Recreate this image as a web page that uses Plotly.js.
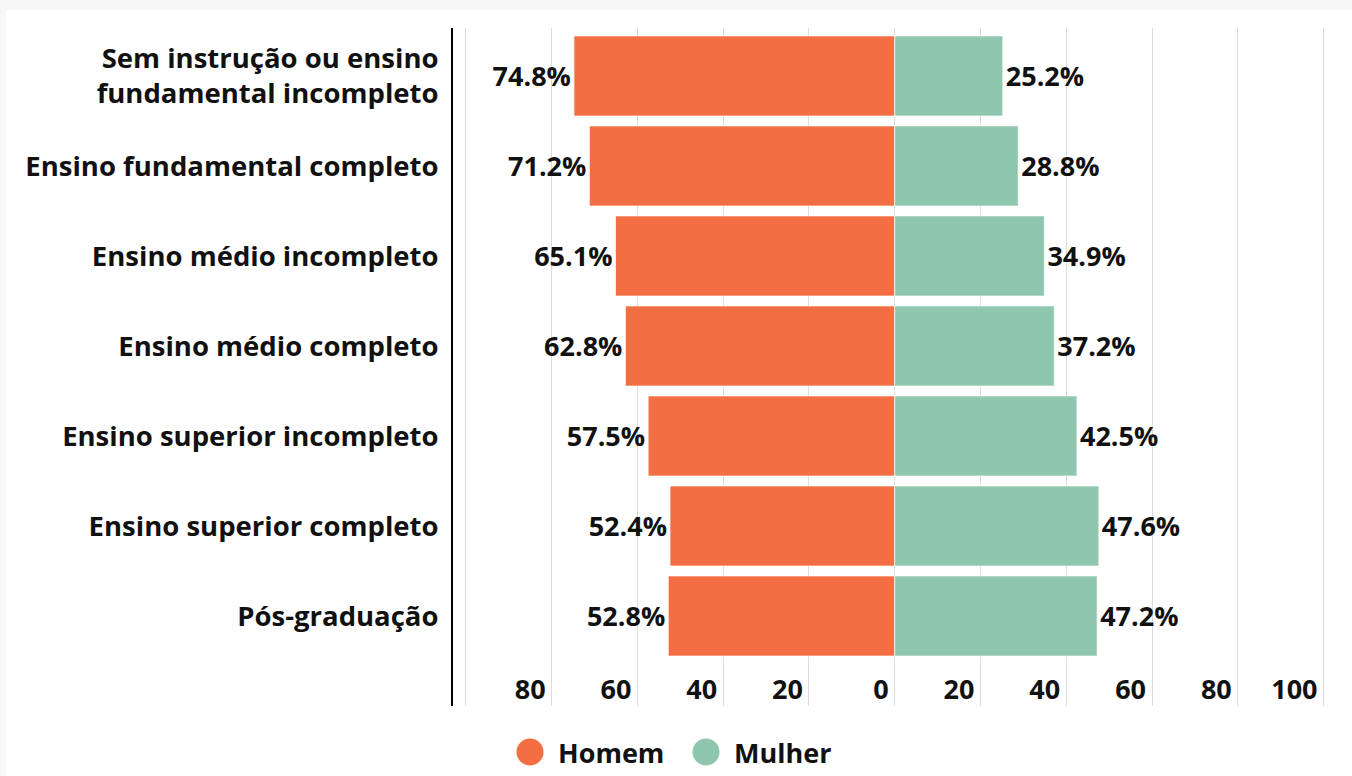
<!DOCTYPE html>
<html>
<head>
<meta charset="utf-8">
<script src="https://cdn.plot.ly/plotly-3.0.1.min.js"></script>
<style>
  html, body { margin: 0; padding: 0; background: #f7f7f7; width: 1352px; height: 776px; overflow: hidden; }
  #chart { position: absolute; left: 6px; top: 10px; width: 1346px; height: 766px; background: #ffffff; }
</style>
</head>
<body>
<div id="chart"></div>
<script>
// ---- data ----
const categories = [
  "Sem instrução ou ensino<br>fundamental incompleto",
  "Ensino fundamental completo",
  "Ensino médio incompleto",
  "Ensino médio completo",
  "Ensino superior incompleto",
  "Ensino superior completo",
  "Pós-graduação"
];
const homem  = [74.8, 71.2, 65.1, 62.8, 57.5, 52.4, 52.8];
const mulher = [25.2, 28.8, 34.9, 37.2, 42.5, 47.6, 47.2];
const tickValues = [-100, -80, -60, -40, -20, 0, 20, 40, 60, 80, 100];
const tickLabels = ["", "80", "60", "40", "20", "0", "20", "40", "60", "80", "100"];
const seriesNames = ["Homem", "Mulher"];

// ---- style ----
const ORANGE = "#f36e42";
const GREEN = "#8ec7ad";
const FONT = "Open Sans";
const FS = 27;

const W = 1346, H = 766;
const M = { l: 447, r: 22, t: 18, b: 70 };
const PW = W - M.l - M.r, PH = H - M.t - M.b;
const px = x => (x - M.l) / PW;          // div pixel -> paper x
const py = y => (H - M.b - y) / PH;      // div pixel -> paper y

const traces = [
  {
    type: "bar", orientation: "h", name: seriesNames[0],
    y: categories, x: homem.map(v => -v),
    text: homem.map(v => v.toFixed(1) + "%"),
    textposition: "outside", cliponaxis: false,
    textfont: { family: FONT, size: FS, weight: 700, color: "#111" },
    marker: { color: ORANGE, line: { color: "rgba(255,255,255,0.7)", width: 1 } },
    showlegend: false, hoverinfo: "none"
  },
  {
    type: "bar", orientation: "h", name: seriesNames[1],
    y: categories, x: mulher,
    text: mulher.map(v => v.toFixed(1) + "%"),
    textposition: "outside", cliponaxis: false,
    textfont: { family: FONT, size: FS, weight: 700, color: "#111" },
    marker: { color: GREEN, line: { color: "rgba(255,255,255,0.7)", width: 1 } },
    showlegend: false, hoverinfo: "none"
  }
];

const legendItems = [
  { name: seriesNames[0], color: ORANGE, cx: 524, tx: 550 },
  { name: seriesNames[1], color: GREEN, cx: 700, tx: 726 }
];
const legendY = 742, R = 13.5;

const layout = {
  width: W, height: H,
  margin: M,
  paper_bgcolor: "#ffffff", plot_bgcolor: "#ffffff",
  font: { family: FONT, size: FS, color: "#111", weight: 700 },
  barmode: "relative",
  bargap: 0.11,
  showlegend: false,
  xaxis: {
    range: [-103.0, 101.5],
    tickvals: tickValues, ticktext: tickLabels,
    ticklabelposition: "inside left",
    ticklabelshift: -6,
    ticklabelstandoff: -4,
    tickfont: { family: FONT, size: FS, weight: 700, color: "#111" },
    showgrid: true, gridcolor: "#dcdcdc", gridwidth: 1,
    zeroline: false, showline: false, ticks: "",
    fixedrange: true
  },
  yaxis: {
    type: "category",
    categoryorder: "array", categoryarray: categories,
    range: [7.0, -0.533],
    showline: true, linecolor: "#000", linewidth: 2,
    showgrid: false, zeroline: false, ticks: "",
    ticklabelstandoff: 7,
    tickfont: { family: FONT, size: 27.5, weight: 700, color: "#111" },
    fixedrange: true
  },
  shapes: legendItems.map(it => ({
    type: "circle", xref: "paper", yref: "paper",
    x0: px(it.cx - R), x1: px(it.cx + R),
    y0: py(legendY + R), y1: py(legendY - R),
    fillcolor: it.color, line: { width: 0 }
  })),
  annotations: legendItems.map(it => ({
    xref: "paper", yref: "paper",
    x: px(it.tx), y: py(legendY),
    xanchor: "left", yanchor: "middle",
    text: it.name, showarrow: false,
    font: { family: FONT, size: FS, weight: 700, color: "#111" }
  }))
};

Plotly.newPlot("chart", traces, layout, { displayModeBar: false, staticPlot: true });
</script>
</body>
</html>
